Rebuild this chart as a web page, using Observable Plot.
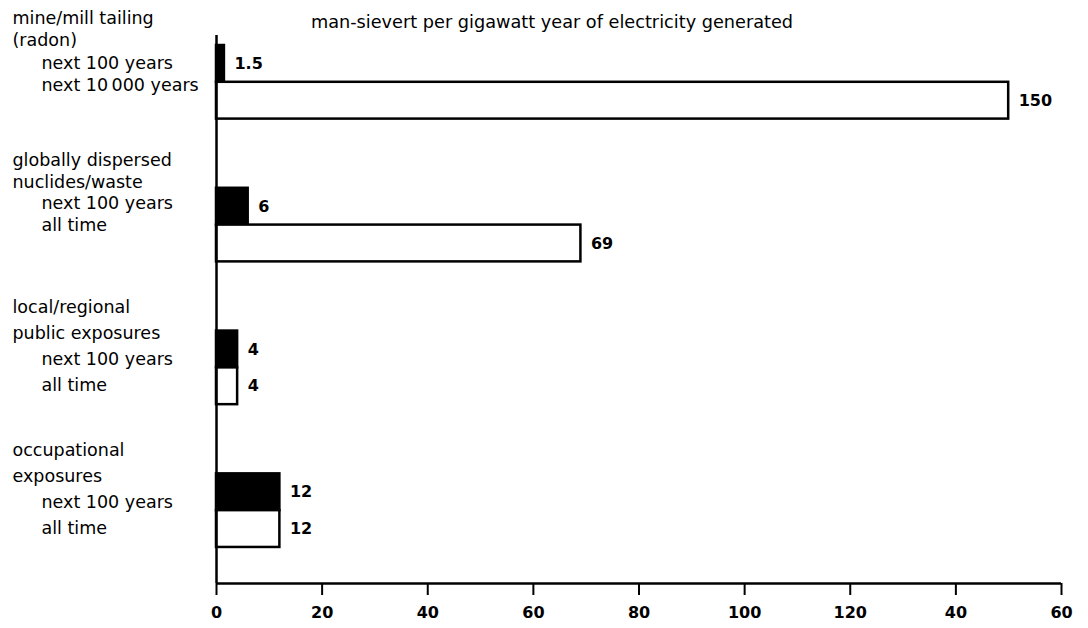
<!DOCTYPE html>
<html>
<head>
<meta charset="utf-8">
<script src="https://cdn.jsdelivr.net/npm/d3@7"></script>
<script src="https://cdn.jsdelivr.net/npm/@observablehq/plot@0.6"></script>
<style>
  html, body { margin: 0; padding: 0; background: #fff; }
</style>
</head>
<body>
<div id="chart"></div>
<script>
// ---- data ----
const title = "man-sievert per gigawatt year of electricity generated";
const categoryLine1 = ["mine/mill tailing", "globally dispersed", "local/regional", "occupational"];
const categoryLine2 = ["(radon)", "nuclides/waste", "public exposures", "exposures"];
const shortTermLabels = ["next 100 years", "next 100 years", "next 100 years", "next 100 years"];
const longTermLabels = ["next 10\u2009000 years", "all time", "all time", "all time"];
const shortTermValues = [1.5, 6, 4, 12];
const longTermValues = [150, 69, 4, 12];
const xTicks = [0, 20, 40, 60, 80, 100, 120, 140, 160];
const xTickLabels = ["0", "20", "40", "60", "80", "100", "120", "40", "60"];

// ---- layout (in units of one bar height) ----
const STEP = 3.88;          // pitch between category groups
const PX = 36.8;            // pixels per unit (used only to derive domain)
const yMin = -45 / PX, yMax = 538 / PX;
const LABEL_FIRST = [-27, -28, -24, -23];   // label block offset per group (px)
const LABEL_GAP = [22.3, 21.8, 26, 25.7];   // label line spacing per group (px)

const shortBars = shortTermValues.map((v, i) => ({i, value: v}));
const longBars = longTermValues.map((v, i) => ({i, value: v}));

const lines = [];
categoryLine1.forEach((c, i) => {
  const texts = [categoryLine1[i], categoryLine2[i], shortTermLabels[i], longTermLabels[i]];
  texts.forEach((t, k) => lines.push({i, k, text: t}));
});
const lineY = d => d.i * STEP + (LABEL_FIRST[d.i] + LABEL_GAP[d.i] * d.k) / PX;

const font = "DejaVu Sans";

const chart = Plot.plot({
  width: 1088,
  height: 628,
  marginLeft: 216,
  marginRight: 27,
  marginTop: 0,
  marginBottom: 45,
  style: {fontFamily: font, color: "#000", background: "#fff", overflow: "visible"},
  x: {domain: [0, 160], label: null, axis: null},
  y: {domain: [yMin, yMax], reverse: true, axis: null},
  marks: [
    Plot.rect(shortBars, {
      x1: () => 0, x2: "value",
      y1: d => d.i * STEP, y2: d => d.i * STEP + 1,
      fill: "#000", stroke: "#000", strokeWidth: 2.5
    }),
    Plot.rect(longBars, {
      x1: () => 0, x2: "value",
      y1: d => d.i * STEP + 1, y2: d => d.i * STEP + 2,
      fill: "#fff", stroke: "#000", strokeWidth: 2.5
    }),
    Plot.text(shortBars, {
      x: "value", y: d => d.i * STEP + 0.5, text: d => String(d.value),
      dx: 10, textAnchor: "start", fontWeight: "bold", fontSize: 16
    }),
    Plot.text(longBars, {
      x: "value", y: d => d.i * STEP + 1.5, text: d => String(d.value),
      dx: 10, textAnchor: "start", fontWeight: "bold", fontSize: 16
    }),
    Plot.ruleX([0], {y1: -0.27, y2: yMax, strokeWidth: 2.5}),
    Plot.ruleY([yMax], {x1: 0, x2: 160, strokeWidth: 2.5}),
    Plot.axisX({
      ticks: xTicks, tickSize: 12, tickPadding: 11, strokeWidth: 2,
      tickFormat: d => xTickLabels[xTicks.indexOf(d)],
      fontSize: 16, fontWeight: "bold", label: null
    }),
    Plot.text(lines.filter(d => d.k < 2), {
      y: lineY, text: "text", frameAnchor: "left", dx: -204,
      textAnchor: "start", fontSize: 17.5
    }),
    Plot.text(lines.filter(d => d.k >= 2), {
      y: lineY, text: "text", frameAnchor: "left", dx: -175,
      textAnchor: "start", fontSize: 17.5
    }),
    Plot.text([title], {
      frameAnchor: "top", dy: 15, dx: -87, text: d => d, fontSize: 17.7
    })
  ]
});
document.getElementById("chart").appendChild(chart);
</script>
</body>
</html>
